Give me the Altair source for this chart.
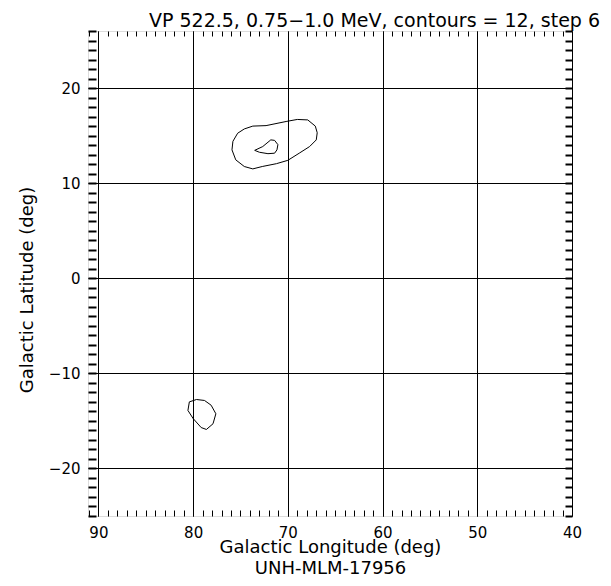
import altair as alt
import pandas as pd

TITLE = "VP 522.5, 0.75\u22121.0 MeV, contours = 12, step 6"
X_TITLE = ["Galactic Longitude (deg)", "UNH-MLM-17956"]
Y_TITLE = "Galactic Latitude (deg)"

MAJOR_X = [90, 80, 70, 60, 50, 40]
MAJOR_Y = [-20, -10, 0, 10, 20]
MINOR_X = list(range(40, 92))
MINOR_Y = list(range(-25, 27))

# contour curves (lon, lat)
OUTER_LON = [73.7, 72.3, 70.1, 69.0, 67.9, 67.1, 66.9, 67.0, 67.7, 68.8, 70.0, 71.2, 72.7, 73.7, 74.6, 75.5, 75.9, 75.8, 75.3, 74.6]
OUTER_LAT = [16.0, 16.05, 16.5, 16.7, 16.65, 16.0, 15.3, 14.55, 13.85, 13.15, 12.4, 12.05, 11.75, 11.5, 11.75, 12.45, 13.5, 14.4, 15.25, 15.7]
INNER_LON = [73.5, 72.65, 71.8, 71.4, 71.05, 71.15, 71.4, 72.1, 73.0]
INNER_LAT = [13.45, 13.85, 14.55, 14.5, 14.05, 13.5, 13.15, 13.1, 13.25]
LOWER_LON = [80.4, 79.65, 78.8, 78.1, 77.6, 77.9, 78.6, 79.15, 80.0, 80.55]
LOWER_LAT = [-13.0, -12.75, -12.85, -13.35, -14.25, -15.3, -15.9, -15.7, -14.75, -13.9]

rows = []
for cid, (lons, lats) in enumerate([(OUTER_LON, OUTER_LAT), (INNER_LON, INNER_LAT), (LOWER_LON, LOWER_LAT)]):
    pts = list(zip(lons, lats)) + [(lons[0], lats[0])]
    for i, (lo, la) in enumerate(pts):
        rows.append({"cid": cid, "ord": i, "lon": lo, "lat": la})
df = pd.DataFrame(rows)

FONT = "DejaVu Sans"
xscale = alt.Scale(domain=[91.1, 40], nice=False, zero=False)
yscale = alt.Scale(domain=[-25, 26], nice=False, zero=False)

main = alt.Chart(df).mark_line(color="black", strokeWidth=1).encode(
    x=alt.X("lon:Q", scale=xscale, axis=alt.Axis(
        orient="bottom", values=MAJOR_X, format="d", grid=True, gridColor="black",
        gridWidth=1, gridOpacity=1, ticks=False, tickSize=0, domain=False,
        labelFont=FONT, labelFontSize=15, labelColor="black", labelPadding=9,
        labelFlush=False, labelOverlap=False, labelBaseline="top",
        title=X_TITLE, titleFont=FONT, titleFontSize=18, titleFontWeight="normal",
        titleColor="black", titleBaseline="top", titleY=22, titleLineHeight=21)),
    y=alt.Y("lat:Q", scale=yscale, axis=alt.Axis(
        orient="left", values=MAJOR_Y, format="d", grid=True, gridColor="black",
        gridWidth=1, gridOpacity=1, ticks=False, tickSize=0, domain=False,
        labelFont=FONT, labelFontSize=15, labelColor="black", labelPadding=8,
        labelFlush=False, labelOverlap=False,
        title=Y_TITLE, titleFont=FONT, titleFontSize=18, titleFontWeight="normal",
        titleColor="black", titleAngle=270, titleBaseline="alphabetic",
        titleAlign="center", titleX=-56, titleY=258.5)),
    detail="cid:N",
    order="ord:Q",
)


def tick_layer(xaxis, yaxis):
    return alt.Chart(df).mark_line(opacity=0).encode(
        x=alt.X("lon:Q", scale=xscale, axis=xaxis),
        y=alt.Y("lat:Q", scale=yscale, axis=yaxis),
        detail="cid:N",
    )


def minor_axis(orient, values, size, width, **kw):
    return alt.Axis(orient=orient, values=values, labels=False, domain=False, grid=False,
                    ticks=True, tickSize=size, tickWidth=width, tickColor="black",
                    offset=-size, **kw)


top_axis = minor_axis("top", MINOR_X, 5, 1, title=TITLE, titleFont=FONT, titleFontSize=19,
                      titleFontWeight="normal", titleColor="black", titleAngle=0,
                      titleBaseline="alphabetic", titleAlign="center", titleX=286, titleY=-10)

layers = [
    main,
    tick_layer(minor_axis("bottom", MINOR_X, 6, 1, title=None), None),
    tick_layer(top_axis, None),
    tick_layer(None, minor_axis("left", MINOR_Y, 8, 2, title=None)),
    tick_layer(None, minor_axis("right", MINOR_Y, 7, 2, title=None)),
]

chart = alt.layer(*layers).resolve_axis(x="independent", y="independent").properties(
    width=484,
    height=485,
    padding={"left": 80, "top": 23, "right": 30, "bottom": 62},
    autosize=alt.AutoSizeParams(type="none"),
).configure_view(stroke="black", strokeWidth=2).configure(background="white")

chart.save("out.html", embed_options={"renderer": "svg", "actions": False})
